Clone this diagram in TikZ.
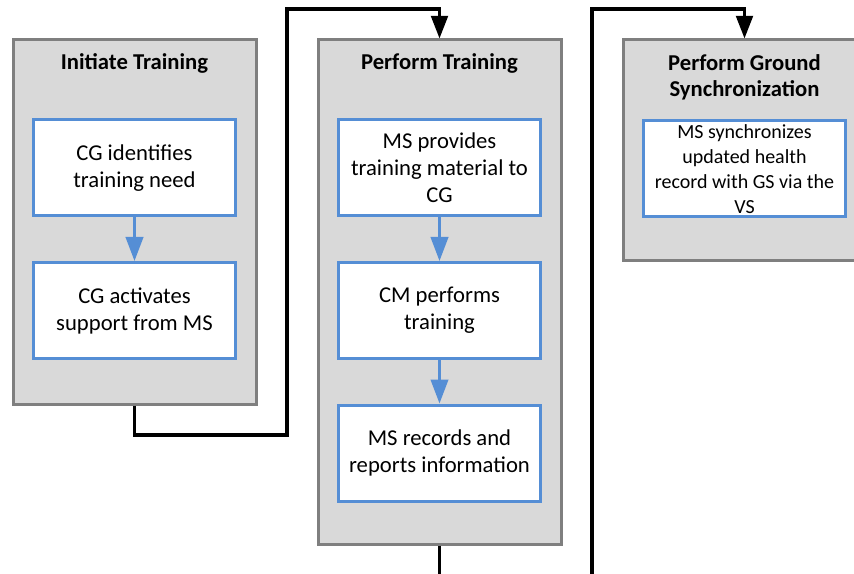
\documentclass[tikz,border=0pt]{standalone}
\usepackage{fontspec}
\setmainfont{Carlito}
\usetikzlibrary{arrows.meta}
\definecolor{boxgray}{HTML}{D9D9D9}
\definecolor{boxedge}{HTML}{7F7F7F}
\definecolor{stepblue}{HTML}{558ED5}
\begin{document}
\begin{tikzpicture}[x=0.75pt,y=-0.75pt,
  phase/.style={draw=boxedge, fill=boxgray, line width=2.25pt, minimum width=182.25pt, inner sep=0pt},
  stepbox/.style={draw=stepblue, fill=white, line width=2.25pt, minimum width=151pt, minimum height=72pt,
    align=center, inner sep=0pt, font=\fontsize{17}{20.25}\selectfont},
  smallstep/.style={stepbox, font=\fontsize{15}{18.75}\selectfont},
  title/.style={anchor=north, align=center, inner sep=0pt, font=\bfseries\fontsize{17}{19.5}\selectfont},
  flow/.style={draw=stepblue, line width=2.25pt, -{Triangle[width=13pt,length=18pt]}},
  link/.style={draw=black, line width=2.4pt},
  linkarrow/.style={link, -{Triangle[width=12.5pt,length=17pt]}}]
\clip (0,0) rectangle (854,574);
% phase containers
\node[phase, minimum height=273pt] (b1) at (134.5,222) {};
\node[phase, minimum height=378pt] (b2) at (439.5,292) {};
\node[phase, minimum height=165.75pt] (b3) at (744.5,150.5) {};
% titles
\node[title] (t1) at (134.5,53.5) {Initiate Training};
\node[title] (t2) at (439.5,53.5) {Perform Training};
\node[title] (t3) at (744.5,54.5) {Perform Ground\\Synchronization};
% steps
\node[stepbox] (s1) at (134.5,168) {CG identifies\\training need};
\node[stepbox] (s2) at (134.5,310.5) {CG activates\\support from MS};
\node[stepbox] (s3) at (439.5,168) {MS provides\\training material to\\CG};
\node[stepbox] (s4) at (439.5,310.5) {CM performs\\training};
\node[stepbox] (s5) at (439.5,453) {MS records and\\reports information};
\node[smallstep] (s6) at (744.5,169) {MS synchronizes\\updated health\\record with GS via the\\VS};
% flows inside phases
\draw[flow] (s1) -- (s2);
\draw[flow] (s3) -- (s4);
\draw[flow] (s4) -- (s5);
% connectors between phases
\coordinate (c1) at (287,435);
\coordinate (c2) at (287,9);
\coordinate (e2) at (439.5,574);
\coordinate (c3) at (592,574);
\coordinate (c4) at (592,9);
\draw[linkarrow] (b1.south) |- (c1) -- (c2) -| (b2.north);
\draw[link] (b2.south) -- (e2);
\draw[linkarrow] (c3) -- (c4) -| (b3.north);
\end{tikzpicture}
\end{document}
